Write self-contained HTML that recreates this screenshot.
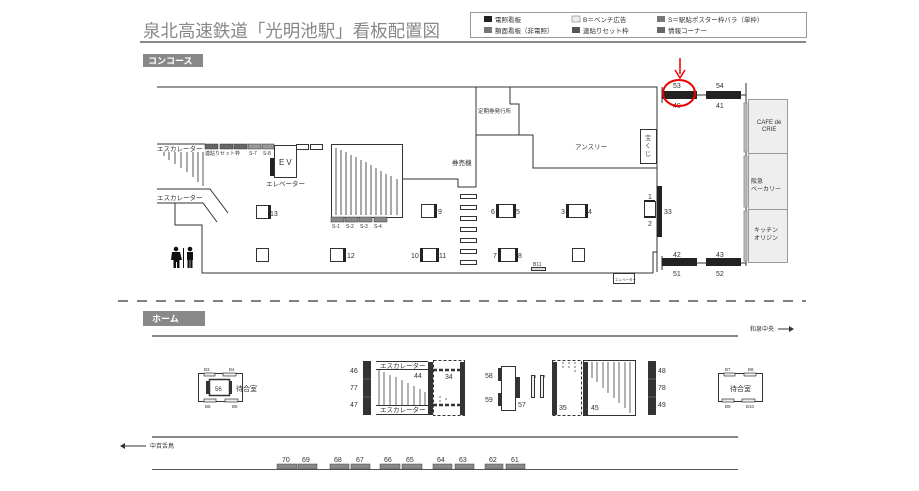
<!DOCTYPE html>
<html><head><meta charset="utf-8"><style>
html,body{margin:0;padding:0;background:#fff;}
svg{display:block;font-family:"Liberation Sans","Noto Sans CJK JP",sans-serif;}
</style></head><body>
<svg width="919" height="491" viewBox="0 0 919 491" xmlns="http://www.w3.org/2000/svg">
<rect width="919" height="491" fill="#fff"/>
<!-- title -->
<text x="143" y="37" font-size="17.5" fill="#888" textLength="297" lengthAdjust="spacingAndGlyphs">泉北高速鉄道「光明池駅」看板配置図</text>
<line x1="140" y1="42" x2="806" y2="42" stroke="#888" stroke-width="2"/>
<!-- legend -->
<rect x="470.5" y="12.5" width="336" height="25" fill="#fff" stroke="#999"/>
<g font-size="6.5" fill="#333">
<rect x="484" y="16" width="8" height="6" fill="#222"/><text x="495" y="22">電照看板</text>
<rect x="484" y="27" width="8" height="6" fill="#777"/><text x="495" y="33">額面看板（非電照）</text>
<rect x="572" y="16" width="8" height="6" fill="#eee" stroke="#666" stroke-width="0.5"/><text x="583" y="22">B＝ベンチ広告</text>
<rect x="572" y="27" width="8" height="6" fill="#555"/><text x="583" y="33">連貼りセット枠</text>
<rect x="657" y="16" width="8" height="6" fill="#777"/><text x="668" y="22">S＝駅貼ポスター枠バラ（単枠）</text>
<rect x="657" y="27" width="8" height="6" fill="#666"/><text x="668" y="33">情報コーナー</text>
</g>
<!-- labels -->
<rect x="143" y="54" width="60" height="13" fill="#888"/>
<text x="148" y="64" font-size="9" font-weight="bold" fill="#fff">コンコース</text>
<rect x="143" y="311" width="62" height="15" fill="#888"/>
<text x="152" y="322" font-size="9" font-weight="bold" fill="#fff">ホーム</text>

<g stroke="#333" stroke-width="1" fill="none">
<polyline points="157,87 657,87 657,252"/>
<polyline points="157,144 205,144"/>
<polyline points="157,189 210,189 228,213"/>
<polyline points="157,203 203,203 217,222"/>
<polyline points="175,203 175,225 202,225 202,273 653,273"/>
<polyline points="476,87 476,187 458,187 458,179 402,179"/>
<polyline points="510,87 510,104 519,104 519,135 476,135"/>
<polyline points="519,135 533,135 533,168 657,168"/>
<rect x="640.5" y="129.5" width="16" height="34"/>
<polyline points="653,273 653,252 657,252 657,272"/>
<rect x="613.5" y="273.5" width="21" height="10"/>
<rect x="331.5" y="144.5" width="71" height="73"/>
<rect x="274.5" y="145.5" width="22" height="32" fill="#fff"/>
<rect x="296.5" y="144.5" width="12" height="5"/>
<rect x="310.5" y="144.5" width="12" height="5"/>
<line x1="662" y1="95" x2="746" y2="95"/>
<line x1="662" y1="263" x2="746" y2="263"/>
<line x1="746" y1="83" x2="746" y2="266"/>
<line x1="662" y1="87" x2="662" y2="103"/>
<line x1="662" y1="256" x2="662" y2="270"/>
</g>
<g stroke="#555" stroke-width="1">
<line x1="164" y1="152" x2="164" y2="156"/><line x1="169" y1="152" x2="169" y2="160"/><line x1="175" y1="152" x2="175" y2="164"/><line x1="181" y1="152" x2="181" y2="168"/><line x1="187" y1="152" x2="187" y2="172"/><line x1="193" y1="152" x2="193" y2="177"/><line x1="198" y1="152" x2="198" y2="182"/><line x1="203" y1="152" x2="203" y2="186"/>
<line x1="336" y1="148" x2="336" y2="215"/><line x1="341" y1="150" x2="341" y2="215"/><line x1="346" y1="152" x2="346" y2="215"/><line x1="351" y1="155" x2="351" y2="215"/><line x1="356" y1="157" x2="356" y2="215"/><line x1="361" y1="160" x2="361" y2="215"/><line x1="366" y1="162" x2="366" y2="215"/><line x1="371" y1="165" x2="371" y2="215"/><line x1="376" y1="168" x2="376" y2="215"/><line x1="381" y1="171" x2="381" y2="215"/><line x1="386" y1="174" x2="386" y2="215"/><line x1="391" y1="176" x2="391" y2="215"/><line x1="397" y1="179" x2="397" y2="215"/>
</g>
<g stroke="#333" stroke-width="0.5">
<rect x="205" y="144" width="13" height="5" fill="#666"/><rect x="220" y="144" width="13" height="5" fill="#666"/><rect x="234" y="144" width="13" height="5" fill="#666"/>
<rect x="248" y="144" width="13" height="5" fill="#999"/><rect x="262" y="144" width="12" height="5" fill="#999"/>
<rect x="331" y="217" width="13" height="5" fill="#888"/><rect x="345" y="217" width="13" height="5" fill="#888"/><rect x="359" y="217" width="13" height="5" fill="#888"/><rect x="374" y="217" width="13" height="5" fill="#888"/>
</g>
<rect x="270" y="158" width="4" height="18" fill="#222"/>
<g font-size="5" fill="#333">
<text x="205" y="155">連貼りセット枠</text><text x="249" y="155">S-7</text><text x="263" y="155">S-8</text>
<text x="332" y="228">S-1</text><text x="346" y="228">S-2</text><text x="360" y="228">S-3</text><text x="374" y="228">S-4</text>
</g>
<g font-size="6.5" fill="#333">
<text x="157" y="151">エスカレーター</text>
<text x="157" y="200">エスカレーター</text>
<text x="266" y="186">エレベーター</text>
<text x="279" y="165" font-size="8" letter-spacing="2">EV</text>
<text x="452" y="165">券売機</text>
<text x="478" y="113" font-size="5.5">定期券発行所</text>
<text x="575" y="149">アンスリー</text>
<text x="645" y="140" font-size="6">宝</text><text x="645" y="148" font-size="6">く</text><text x="645" y="156" font-size="6">じ</text>
</g>
<g fill="#111"><circle cx="176" cy="249" r="2.3"/><path d="M172 252h8l2 8h-2.5v8h-2.5v-6h-1v6h-2.5v-8h-2.5z"/>
<circle cx="190" cy="249" r="2.3"/><rect x="187" y="252" width="6" height="8"/><rect x="187.5" y="259" width="2.2" height="9"/><rect x="190.3" y="259" width="2.2" height="9"/>
<rect x="183" y="248" width="1" height="20"/></g>
<g stroke="#333" stroke-width="1" fill="#fff">
<rect x="256.5" y="205.5" width="13" height="13"/><rect x="256.5" y="248.5" width="12" height="13"/>
<rect x="330.5" y="248.5" width="13" height="13"/><rect x="421.5" y="204.5" width="13" height="13"/>
<rect x="421.5" y="248.5" width="15" height="13"/>
<rect x="497.5" y="204.5" width="17" height="13"/><rect x="499.5" y="248.5" width="17" height="13"/>
<rect x="566.5" y="204.5" width="21" height="13"/><rect x="572.5" y="248.5" width="12" height="13"/>
<rect x="644.5" y="201.5" width="11" height="16"/>
<rect x="531.5" y="267.5" width="14" height="3" fill="#ddd"/>
<rect x="460.5" y="194.5" width="16" height="4"/><rect x="460.5" y="205.5" width="16" height="4"/><rect x="460.5" y="216.5" width="16" height="4"/><rect x="460.5" y="227.5" width="16" height="4"/><rect x="460.5" y="238.5" width="16" height="4"/><rect x="460.5" y="249.5" width="16" height="4"/><rect x="460.5" y="260.5" width="16" height="4"/>
</g>
<g fill="#222">
<rect x="268" y="205" width="3" height="14"/><rect x="343" y="248" width="3" height="14"/><rect x="434" y="204" width="3" height="14"/>
<rect x="420" y="248" width="3" height="14"/><rect x="436" y="248" width="3" height="14"/>
<rect x="496" y="204" width="3" height="14"/><rect x="513" y="204" width="3" height="14"/>
<rect x="498" y="248" width="3" height="14"/><rect x="515" y="248" width="3" height="14"/>
<rect x="566" y="204" width="3" height="14"/><rect x="585" y="204" width="3" height="14"/>
<rect x="644" y="200" width="11" height="2"/><rect x="644" y="216" width="11" height="2"/>
<rect x="657" y="186" width="5" height="51"/>
<rect x="662" y="91" width="35" height="8"/><rect x="706" y="91" width="35" height="8"/>
<rect x="662" y="258" width="35" height="8"/><rect x="706" y="258" width="35" height="8"/>
</g>
<g font-size="7" fill="#333">
<text x="270" y="216">13</text><text x="347" y="258">12</text><text x="438" y="214">9</text>
<text x="411" y="258">10</text><text x="439" y="258">11</text>
<text x="491" y="214">6</text><text x="516" y="214">5</text>
<text x="493" y="258">7</text><text x="518" y="258">8</text>
<text x="561" y="214">3</text><text x="588" y="214">4</text>
<text x="648" y="199">1</text><text x="648" y="226">2</text><text x="664" y="214">33</text>
<text x="673" y="88">53</text><text x="716" y="88">54</text>
<text x="673" y="108">40</text><text x="716" y="108">41</text>
<text x="673" y="257">42</text><text x="716" y="257">43</text>
<text x="673" y="276">51</text><text x="716" y="276">52</text>
<text x="533" y="266" font-size="5">B11</text>
<text x="615" y="281" font-size="3.5">エレベーター</text>
</g>
<g stroke="#999" stroke-width="1">
<rect x="748.5" y="99.5" width="39" height="54" fill="#eee"/><rect x="748.5" y="153.5" width="39" height="56" fill="#eee"/><rect x="748.5" y="209.5" width="39" height="53" fill="#eee"/>
<rect x="744" y="103" width="3" height="49" fill="#bbb"/><rect x="744" y="156" width="3" height="51" fill="#bbb"/><rect x="744" y="211" width="3" height="50" fill="#bbb"/>
</g>
<g font-size="6" fill="#333">
<text x="757" y="124">CAFE de</text><text x="762" y="131">CRIE</text>
<text x="751" y="183">阪急</text><text x="751" y="191">ベーカリー</text>
<text x="754" y="232">キッチン</text><text x="754" y="240">オリジン</text>
</g>
<line x1="680" y1="58" x2="680" y2="74" stroke="#e00" stroke-width="1.5"/>
<path d="M675 70 L680 78 L685 70" stroke="#e00" stroke-width="1.5" fill="none"/>
<ellipse cx="679" cy="93" rx="16" ry="13" stroke="#e00" stroke-width="2" fill="none"/>

<line x1="118" y1="301" x2="806" y2="301" stroke="#555" stroke-width="1.5" stroke-dasharray="10,9"/>
<g stroke="#888" stroke-width="2"><line x1="152" y1="336" x2="738" y2="336"/><line x1="152" y1="437" x2="738" y2="437"/></g>
<line x1="152" y1="469.5" x2="738" y2="469.5" stroke="#555" stroke-width="1"/>
<text x="750" y="331" font-size="6" fill="#333">和泉中央</text>
<line x1="778" y1="329" x2="790" y2="329" stroke="#333"/><path d="M789 326 L794 329 L789 332z" fill="#333"/>
<text x="150" y="448" font-size="6" fill="#333">中百舌鳥</text>
<line x1="124" y1="446" x2="146" y2="446" stroke="#333"/><path d="M125 443 L120 446 L125 449z" fill="#333"/>
<g fill="#888" stroke="#444" stroke-width="0.5">
<rect x="277" y="464" width="20" height="5"/><rect x="298" y="464" width="19" height="5"/><rect x="330" y="464" width="19" height="5"/><rect x="351" y="464" width="19" height="5"/><rect x="380" y="464" width="20" height="5"/><rect x="402" y="464" width="20" height="5"/><rect x="433" y="464" width="19" height="5"/><rect x="455" y="464" width="19" height="5"/><rect x="485" y="464" width="18" height="5"/><rect x="506" y="464" width="19" height="5"/>
</g>
<g font-size="7" fill="#333">
<text x="282" y="462">70</text><text x="302" y="462">69</text><text x="334" y="462">68</text><text x="356" y="462">67</text><text x="384" y="462">66</text><text x="406" y="462">65</text><text x="437" y="462">64</text><text x="459" y="462">63</text><text x="489" y="462">62</text><text x="511" y="462">61</text>
</g>
<g stroke="#333" stroke-width="1" fill="#fff">
<rect x="198.5" y="373.5" width="44" height="28"/>
<rect x="209.5" y="379.5" width="20" height="16" stroke-width="1.5"/>
<rect x="718.5" y="373.5" width="44" height="28"/>
</g>
<g fill="#eee" stroke="#333" stroke-width="0.7">
<rect x="204" y="373" width="11" height="3"/><rect x="223" y="373" width="13" height="3"/><rect x="204" y="399" width="12" height="3"/><rect x="225" y="399" width="13" height="3"/>
<rect x="724" y="373" width="11" height="3"/><rect x="744" y="373" width="12" height="3"/><rect x="722" y="399" width="12" height="3"/><rect x="742" y="399" width="13" height="3"/>
</g>
<g fill="#333"><rect x="206" y="381" width="3" height="13"/><rect x="229" y="381" width="3" height="13"/></g>
<g font-size="4.5" fill="#333">
<text x="204" y="371">B3</text><text x="229" y="371">B4</text><text x="205" y="408">B5</text><text x="232" y="408">B6</text>
<text x="725" y="371">B7</text><text x="748" y="371">B8</text><text x="725" y="408">B9</text><text x="746" y="408">B10</text>
<text x="531" y="378">B1</text><text x="540" y="378">B2</text>
</g>
<text x="215" y="391" font-size="6" fill="#333">56</text>
<text x="236" y="391" font-size="7" fill="#333">待合室</text>
<text x="730" y="391" font-size="7" fill="#333">待合室</text>

<g fill="#333"><rect x="363" y="361" width="8" height="54"/><rect x="648" y="361" width="8" height="54"/>
<rect x="428" y="362" width="5" height="53"/><rect x="460" y="362" width="5" height="53"/>
<rect x="552" y="362" width="5" height="53"/><rect x="583" y="362" width="5" height="53"/>
<rect x="498" y="368" width="4" height="13"/><rect x="498" y="393" width="4" height="13"/><rect x="515" y="377" width="5" height="21"/></g>
<g stroke="#777" stroke-width="0.7"><line x1="363" y1="379" x2="371" y2="379"/><line x1="363" y1="397" x2="371" y2="397"/><line x1="648" y1="379" x2="656" y2="379"/><line x1="648" y1="397" x2="656" y2="397"/></g>
<g stroke="#333" stroke-width="1" fill="none">
<line x1="376" y1="361.5" x2="428" y2="361.5"/><line x1="376" y1="369.5" x2="428" y2="369.5"/><line x1="376" y1="405.5" x2="428" y2="405.5"/><line x1="376" y1="414.5" x2="428" y2="414.5"/>
<rect x="433.5" y="360.5" width="31" height="55" stroke-dasharray="3,2"/>
<rect x="552.5" y="360.5" width="29" height="55" stroke-dasharray="3,2"/>
<rect x="583.5" y="360.5" width="52" height="55"/>
<rect x="501.5" y="366.5" width="14" height="44"/>
<rect x="531.5" y="375.5" width="3" height="22" fill="#eee"/><rect x="540.5" y="375.5" width="3" height="22" fill="#eee"/>
</g>
<g stroke="#333" stroke-width="2.5" stroke-dasharray="4,2"><line x1="433" y1="370" x2="460" y2="370"/><line x1="433" y1="405" x2="460" y2="405"/></g>
<g stroke="#666" stroke-width="1">
<line x1="379" y1="370" x2="379" y2="405"/><line x1="384" y1="372" x2="384" y2="405"/><line x1="390" y1="375" x2="390" y2="405"/><line x1="396" y1="377" x2="396" y2="405"/><line x1="402" y1="380" x2="402" y2="405"/><line x1="408" y1="383" x2="408" y2="405"/><line x1="414" y1="386" x2="414" y2="405"/><line x1="420" y1="389" x2="420" y2="405"/><line x1="425" y1="392" x2="425" y2="405"/>
<line x1="592" y1="362" x2="592" y2="378"/><line x1="597" y1="362" x2="597" y2="382"/><line x1="603" y1="362" x2="603" y2="388"/><line x1="608" y1="362" x2="608" y2="393"/><line x1="614" y1="362" x2="614" y2="398"/><line x1="619" y1="362" x2="619" y2="403"/><line x1="625" y1="362" x2="625" y2="408"/><line x1="630" y1="362" x2="630" y2="413"/>
</g>
<g stroke="#333" stroke-width="0.7" stroke-dasharray="2,2"><line x1="563" y1="362" x2="563" y2="368"/><line x1="569" y1="362" x2="569" y2="370"/><line x1="575" y1="362" x2="575" y2="374"/><line x1="440" y1="396" x2="440" y2="402"/><line x1="446" y1="398" x2="446" y2="402"/></g>
<g font-size="7" fill="#333">
<text x="380" y="368" font-size="6.5">エスカレーター</text><text x="380" y="412" font-size="6.5">エスカレーター</text>
<text x="414" y="378">44</text><text x="445" y="379">34</text>
<text x="350" y="373">46</text><text x="350" y="390">77</text><text x="350" y="407">47</text>
<text x="658" y="373">48</text><text x="658" y="390">78</text><text x="658" y="407">49</text>
<text x="485" y="378">58</text><text x="485" y="402">59</text><text x="518" y="407">57</text>
<text x="559" y="410">35</text><text x="591" y="410">45</text>
</g>
</svg>
</body></html>
